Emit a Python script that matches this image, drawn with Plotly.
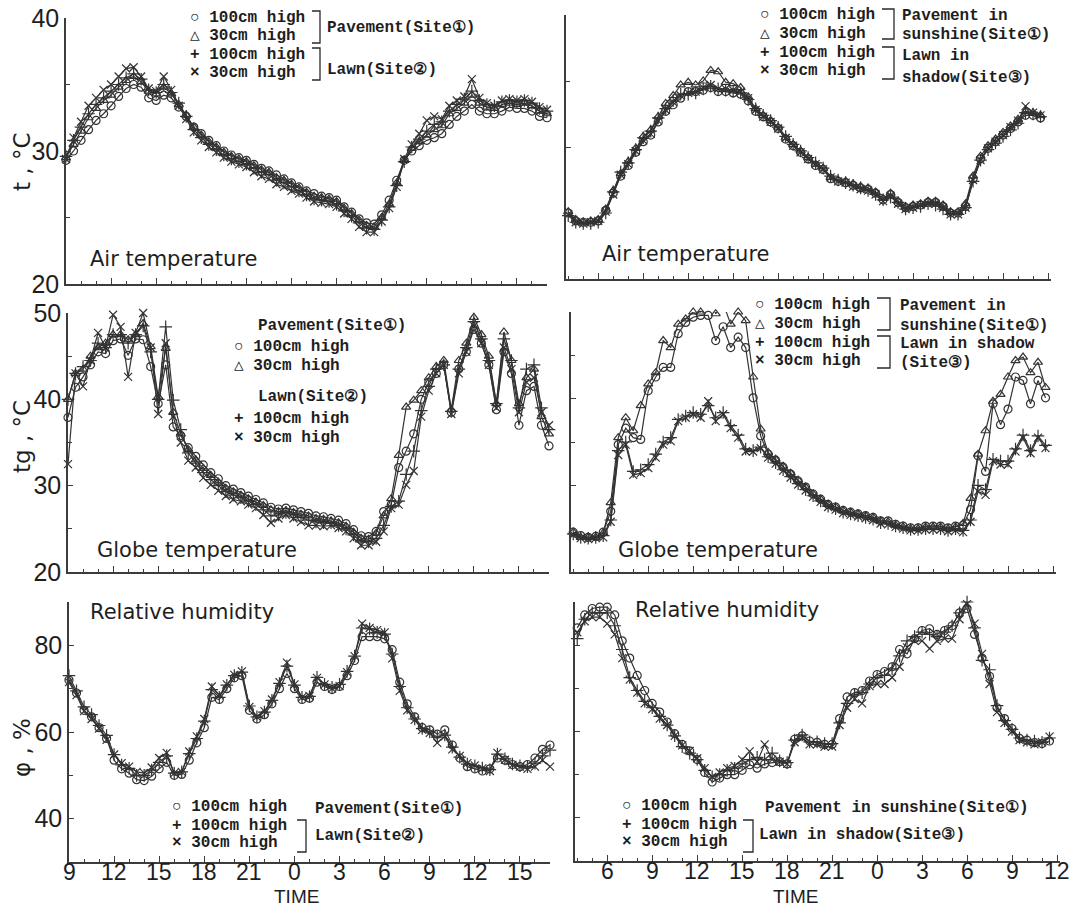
import plotly.graph_objects as go

W, H = 1073, 907


def px(x):
    return x / W


def py(y):
    return 1 - y / H


# time grid (hours, continuous; 24 = midnight of the 2nd day)
T_LEFT = [9 + 0.5 * i for i in range(65)]     # 9:00 .. 17:00 next day
T_RIGHT = [4 + 0.5 * i for i in range(64)]    # 4:00 .. 11:30 next day

LEFT_TICKVALS = [9, 12, 15, 18, 21, 24, 27, 30, 33, 36, 39]
LEFT_TICKTEXT = ["9", "12", "15", "18", "21", "0", "3", "6", "9", "12", "15"]
RIGHT_TICKVALS = [6, 9, 12, 15, 18, 21, 24, 27, 30, 33, 36]
RIGHT_TICKTEXT = ["6", "9", "12", "15", "18", "21", "0", "3", "6", "9", "12"]

# ---------------- Air temperature, Pavement (Site 1) / Lawn (Site 2)
TL_P100 = [29.3, 30.0, 30.8, 31.6, 32.3, 32.8, 33.4, 34.1, 34.7, 35.0,
           34.8, 34.0, 33.8, 34.2, 34.0, 33.3, 32.6, 31.8, 31.3, 30.8,
           30.4, 30.0, 29.7, 29.5, 29.3, 29.0, 28.7, 28.5, 28.2, 27.9,
           27.6, 27.3, 27.0, 26.8, 26.6, 26.5, 26.3, 25.8, 25.4, 24.9,
           24.6, 24.5, 25.2, 26.3, 27.8, 29.3, 30.0, 30.4, 30.8, 31.0,
           31.3, 32.0, 32.6, 33.0, 33.5, 33.0, 32.8, 32.8, 33.0, 33.3,
           33.2, 33.2, 33.0, 32.6, 32.5]
TL_P30 = [29.5, 30.5, 31.5, 32.5, 33.2, 33.8, 34.2, 34.8, 35.3, 35.6,
          35.2, 34.5, 34.3, 34.8, 34.3, 33.5, 32.7, 31.8, 31.2, 30.7,
          30.3, 29.9, 29.6, 29.4, 29.2, 28.9, 28.6, 28.4, 28.0, 27.8,
          27.5, 27.2, 26.9, 26.6, 26.5, 26.4, 26.2, 25.7, 25.3, 24.8,
          24.4, 24.3, 25.0, 26.0, 27.6, 29.3, 30.2, 30.7, 31.2, 31.6,
          31.9, 32.8, 33.2, 33.6, 34.2, 33.6, 33.3, 33.2, 33.5, 33.6,
          33.5, 33.6, 33.4, 33.0, 32.8]
TL_L100 = [29.6, 30.8, 31.8, 32.8, 33.5, 34.0, 34.5, 35.0, 35.5, 35.8,
           35.4, 34.6, 34.4, 35.0, 34.4, 33.6, 32.6, 31.6, 31.0, 30.5,
           30.1, 29.7, 29.4, 29.2, 29.0, 28.7, 28.4, 28.2, 27.8, 27.6,
           27.3, 27.0, 26.7, 26.4, 26.3, 26.2, 26.0, 25.5, 25.1, 24.6,
           24.2, 24.1, 24.8, 25.8, 27.4, 29.2, 30.3, 30.9, 31.5, 32.0,
           32.2, 33.0, 33.5, 33.9, 34.5, 33.8, 33.5, 33.4, 33.7, 33.8,
           33.7, 33.8, 33.6, 33.2, 33.0]
TL_L30 = [29.4, 31.0, 32.2, 33.4, 34.0, 34.6, 35.0, 35.6, 36.2, 36.3,
          35.6, 34.7, 34.5, 35.6, 34.6, 33.4, 32.4, 31.4, 30.8, 30.3,
          29.9, 29.5, 29.2, 29.0, 28.8, 28.4, 28.1, 27.9, 27.5, 27.3,
          27.0, 26.8, 26.5, 26.2, 26.1, 26.0, 25.8, 25.3, 24.9, 24.3,
          23.9, 23.9, 24.7, 25.7, 27.3, 29.4, 30.5, 31.3, 32.3, 32.6,
          32.4, 33.4, 33.8, 34.1, 35.4, 34.0, 33.6, 33.4, 33.8, 33.9,
          33.8, 33.9, 33.7, 33.3, 33.1]

# ---------------- Air temperature, Pavement in sunshine (Site 1) / Lawn in shadow (Site 3)
TR_P100 = [25.0, 24.4, 24.3, 24.3, 24.4, 25.2, 26.5, 27.8, 28.6, 29.6,
           30.4, 30.9, 31.9, 32.7, 33.2, 33.7, 34.2, 34.2, 34.3, 34.5,
           34.2, 34.2, 34.1, 34.0, 33.5, 32.7, 32.3, 31.9, 31.4, 30.6,
           30.1, 29.6, 29.1, 28.6, 28.3, 27.6, 27.4, 27.3, 27.1, 26.9,
           26.8, 26.5, 26.0, 26.4, 25.8, 25.4, 25.5, 25.6, 25.8, 25.8,
           25.5, 25.0, 25.0, 25.5, 27.6, 29.1, 29.9, 30.4, 30.9, 31.4,
           31.9, 32.4, 32.4, 32.2]
TR_P30 = [25.1, 24.5, 24.3, 24.4, 24.5, 25.3, 26.7, 28.0, 28.9, 29.9,
          30.8, 31.3, 32.3, 33.3, 33.9, 34.7, 34.9, 34.7, 35.0, 35.8,
          35.7, 34.9, 34.8, 34.5, 33.8, 32.9, 32.4, 32.0, 31.5, 30.7,
          30.2, 29.7, 29.2, 28.7, 28.4, 27.7, 27.5, 27.4, 27.2, 27.0,
          26.9, 26.6, 26.1, 26.5, 25.9, 25.5, 25.6, 25.7, 25.9, 25.9,
          25.6, 25.1, 25.1, 25.7, 27.8, 29.3, 30.1, 30.6, 31.1, 31.6,
          32.1, 32.7, 32.6, 32.4]
TR_L100 = [24.8, 24.3, 24.2, 24.2, 24.3, 25.0, 26.6, 28.1, 28.8, 29.8,
           30.7, 31.2, 32.2, 32.9, 33.5, 34.0, 34.0, 34.1, 34.4, 34.6,
           34.4, 34.3, 34.2, 34.1, 33.6, 32.9, 32.4, 32.0, 31.5, 30.8,
           30.2, 29.7, 29.2, 28.8, 28.4, 27.8, 27.5, 27.3, 27.1, 26.9,
           26.7, 26.4, 26.0, 26.2, 25.8, 25.3, 25.4, 25.5, 25.7, 25.6,
           25.3, 24.9, 24.9, 25.4, 27.4, 29.0, 29.8, 30.3, 30.8, 31.3,
           31.8, 32.6, 32.5, 32.3]
TR_L30 = [24.9, 24.3, 24.2, 24.3, 24.4, 25.1, 26.4, 27.9, 28.7, 29.7,
          30.5, 31.0, 32.0, 32.8, 33.4, 33.9, 34.1, 34.2, 34.5, 34.7,
          34.4, 34.4, 34.3, 34.2, 33.7, 32.8, 32.3, 31.9, 31.4, 30.7,
          30.1, 29.6, 29.1, 28.7, 28.3, 27.7, 27.4, 27.3, 27.0, 26.8,
          26.7, 26.4, 25.9, 26.3, 25.7, 25.3, 25.4, 25.6, 25.7, 25.7,
          25.4, 24.9, 24.9, 25.4, 27.5, 29.0, 29.9, 30.4, 30.9, 31.5,
          32.0, 33.1, 32.6, 32.4]

# ---------------- Globe temperature, left
ML_P100 = [37.9, 41.4, 42.6, 44.0, 45.5, 45.3, 46.8, 47.0, 45.1, 47.0,
           46.9, 43.8, 39.5, 44.0, 36.8, 35.8, 34.4, 33.4, 32.4, 31.5,
           30.8, 30.0, 29.6, 29.2, 28.8, 28.4, 28.0, 27.5, 27.3, 27.4,
           27.2, 27.0, 26.8, 26.5, 26.4, 26.2, 26.0, 25.6, 24.9, 24.2,
           24.1, 24.7, 27.0, 27.8, 32.1, 34.0, 36.0, 40.0, 42.0, 43.0,
           44.0, 38.5, 43.5, 45.5, 48.1, 46.5, 44.0, 38.8, 45.5, 43.0,
           37.0, 41.0, 41.5, 37.0, 34.6]
ML_P30 = [40.0, 43.0, 43.5, 45.0, 46.0, 46.5, 47.5, 47.5, 46.9, 47.5,
          48.8, 46.1, 40.3, 45.9, 38.5, 36.0, 34.2, 33.0, 32.0, 31.2,
          30.4, 29.7, 29.3, 28.9, 28.5, 28.1, 27.7, 27.2, 27.0, 27.1,
          26.9, 26.7, 26.5, 26.2, 26.1, 25.9, 25.7, 25.3, 24.6, 23.9,
          23.8, 24.5, 26.5, 28.5, 33.5, 39.1, 39.9, 41.0, 42.5, 43.8,
          44.5, 38.8, 44.5, 46.5, 49.5, 47.5, 45.0, 39.5, 47.8, 44.5,
          39.5, 42.5, 43.5, 38.0, 36.0]
ML_L100 = [40.0, 43.0, 43.8, 44.5, 46.5, 46.0, 47.5, 47.5, 46.5, 47.5,
           48.5, 45.5, 40.0, 48.4, 39.9, 36.5, 33.8, 32.6, 31.5, 30.7,
           30.0, 29.3, 28.9, 28.6, 28.2, 27.8, 27.2, 26.5, 26.6, 26.9,
           26.6, 26.3, 26.0, 25.8, 25.7, 25.7, 25.4, 25.0, 24.3, 23.5,
           23.5, 23.9, 25.4, 27.6, 28.2, 31.3, 34.0, 38.7, 41.5, 43.5,
           44.0, 38.6, 43.5, 46.0, 49.0, 47.0, 44.5, 39.5, 47.0, 44.5,
           39.0, 43.5, 44.0, 39.0, 36.5]
ML_L30 = [32.5, 43.0, 41.5, 44.5, 47.7, 46.0, 49.8, 48.4, 42.6, 47.7,
          50.0, 46.0, 38.3, 46.5, 38.0, 35.0, 32.9, 32.1, 30.9, 30.1,
          29.4, 28.8, 28.4, 28.2, 27.8, 27.4, 26.6, 25.7, 26.2, 26.6,
          26.2, 25.8, 25.4, 25.4, 25.3, 25.4, 25.1, 24.7, 23.9, 23.1,
          23.1, 23.5, 24.7, 27.4, 27.8, 30.1, 31.7, 38.0, 41.0, 43.0,
          44.0, 38.3, 43.0, 45.5, 48.5, 46.5, 44.0, 39.0, 46.0, 43.5,
          38.5, 42.0, 42.5, 38.5, 37.0]

# ---------------- Globe temperature, right
MR_P100 = [24.6, 24.2, 24.0, 24.1, 24.6, 27.0, 34.7, 36.6, 35.5, 35.3,
           40.9, 42.5, 43.6, 43.6, 47.5, 48.8, 49.4, 49.6, 49.6, 46.7,
           48.3, 45.9, 47.1, 45.9, 40.1, 35.7, 33.6, 32.9, 32.1, 31.3,
           30.5, 29.8, 29.0, 28.4, 27.8, 27.5, 27.1, 26.9, 26.7, 26.5,
           26.3, 25.9, 25.9, 25.5, 25.3, 25.1, 25.1, 25.3, 25.3, 25.3,
           25.1, 25.3, 25.4, 27.2, 33.4, 31.6, 39.4, 37.0, 38.8, 42.5,
           42.1, 39.4, 42.1, 40.1]
MR_P30 = [24.6, 24.0, 24.0, 24.0, 24.5, 28.0, 35.5, 37.8, 36.3, 39.2,
          41.7, 43.0, 46.7, 45.9, 48.6, 49.2, 50.0, 50.0, 52.3, 49.8,
          51.0, 48.6, 50.0, 49.0, 42.5, 36.5, 33.8, 33.0, 32.2, 31.4,
          30.6, 29.8, 29.0, 28.4, 27.8, 27.5, 27.1, 26.9, 26.7, 26.5,
          26.3, 25.9, 25.8, 25.4, 25.2, 25.0, 25.0, 25.2, 25.2, 25.2,
          25.0, 25.2, 25.6, 28.5, 33.6, 36.3, 39.7, 40.5, 42.5, 44.4,
          44.8, 43.0, 44.2, 41.3]
MR_L100 = [24.4, 24.0, 23.9, 24.0, 24.2, 26.0, 34.0, 35.0, 31.6, 31.8,
           32.4, 33.6, 35.0, 35.5, 37.6, 38.0, 38.4, 38.2, 39.2, 37.8,
           38.4, 36.9, 35.8, 34.2, 34.0, 34.4, 33.3, 32.6, 31.8, 31.0,
           30.2, 29.5, 28.8, 28.2, 27.6, 27.3, 26.9, 26.7, 26.5, 26.3,
           26.1, 25.7, 25.6, 25.3, 25.1, 24.9, 24.9, 25.0, 25.0, 25.0,
           24.8, 25.0, 24.8, 26.0, 30.0, 29.5, 33.0, 32.8, 32.8, 34.2,
           35.8, 34.0, 35.7, 34.6]
MR_L30 = [24.3, 23.9, 23.8, 23.9, 24.0, 25.8, 33.5, 34.7, 31.2, 31.4,
          32.0, 33.2, 34.7, 35.1, 37.4, 37.8, 38.2, 37.8, 39.7, 37.4,
          38.2, 36.6, 35.5, 33.9, 33.9, 34.3, 33.2, 32.5, 31.7, 30.9,
          30.1, 29.4, 28.7, 28.1, 27.5, 27.2, 26.8, 26.6, 26.4, 26.2,
          26.0, 25.6, 25.5, 25.2, 25.0, 24.8, 24.8, 24.9, 24.9, 24.9,
          24.7, 24.8, 24.6, 25.8, 29.3, 28.9, 32.8, 32.4, 32.4, 33.9,
          35.5, 33.7, 35.5, 34.3]

# ---------------- Relative humidity, left
BL_P100 = [72.0, 69.0, 65.0, 63.5, 61.0, 58.5, 53.5, 51.5, 50.5, 49.0,
           48.8, 49.8, 51.5, 53.0, 50.0, 50.2, 53.5, 57.5, 61.0, 68.0,
           67.5, 70.0, 72.5, 73.0, 65.0, 63.0, 64.0, 66.5, 70.0, 73.5,
           70.0, 67.5, 67.8, 71.5, 70.5, 69.8, 70.5, 73.0, 76.5, 82.0,
           82.0, 82.0, 81.5, 79.0, 71.5, 66.5, 63.5, 61.0, 60.5, 59.5,
           60.5, 57.0, 54.0, 52.0, 51.5, 51.0, 51.5, 54.0, 53.5, 52.5,
           52.0, 52.5, 54.0, 56.0, 57.0]
BL_L100 = [73.0, 69.5, 65.8, 64.0, 61.5, 59.2, 54.8, 52.4, 51.6, 50.0,
           50.0, 51.2, 53.0, 54.5, 50.5, 50.8, 55.0, 58.5, 62.5, 69.8,
           68.0, 70.8, 73.0, 73.8, 66.0, 63.5, 64.6, 67.3, 71.2, 75.2,
           70.8, 68.0, 68.2, 72.6, 71.0, 70.3, 71.0, 74.0, 77.5, 84.0,
           83.8, 83.0, 82.6, 78.0, 70.5, 65.6, 63.0, 60.8, 60.0, 58.8,
           59.3, 56.5, 54.2, 52.6, 52.2, 51.7, 51.3, 54.9, 53.8, 52.6,
           52.2, 52.0, 52.8, 54.5, 55.8]
BL_L30 = [71.5, 68.5, 64.8, 63.0, 60.8, 58.2, 54.8, 52.8, 52.0, 50.8,
          50.5, 51.8, 54.0, 55.2, 50.5, 50.8, 55.5, 59.0, 63.0, 70.5,
          68.5, 71.0, 73.2, 74.0, 65.8, 63.5, 64.8, 67.5, 71.5, 76.0,
          71.0, 68.0, 68.3, 72.5, 71.0, 70.0, 70.6, 73.8, 77.5, 85.0,
          84.0, 83.5, 83.0, 77.0, 69.5, 65.0, 62.8, 60.5, 59.8, 57.5,
          59.0, 56.0, 54.5, 52.8, 52.3, 51.6, 51.0, 55.2, 53.6, 52.4,
          52.0, 51.5, 52.0, 53.5, 52.0]

# ---------------- Relative humidity, right
BR_P100 = [84.0, 87.0, 88.5, 88.8, 88.8, 87.0, 81.0, 77.0, 73.0, 69.5,
           66.5, 64.5, 62.2, 59.5, 57.0, 55.5, 53.5, 50.5, 48.3, 49.2,
           50.0, 50.0, 51.0, 52.3, 51.5, 52.5, 52.8, 53.0, 52.5, 58.2,
           59.0, 57.8, 57.5, 57.0, 57.0, 63.0, 68.0, 69.0, 69.5, 71.7,
           73.2, 73.9, 75.0, 79.0, 78.0, 81.5, 83.4, 83.8, 82.5, 83.4,
           84.5, 87.5, 88.5, 82.5, 77.0, 72.8, 65.5, 63.0, 60.7, 58.4,
           58.0, 57.4, 57.2, 57.8]
BR_L100 = [81.5, 86.0, 87.5, 87.5, 87.5, 84.5, 79.0, 72.5, 69.5, 67.0,
           65.5, 63.5, 61.5, 59.0, 56.5, 55.0, 53.5, 51.0, 49.5, 50.0,
           51.0, 51.5, 52.5, 53.5, 54.0, 53.5, 55.0, 53.2, 52.8, 58.0,
           59.2, 57.6, 57.6, 57.2, 57.2, 62.0, 66.5, 68.5, 69.0, 71.0,
           72.5, 73.0, 74.5, 77.5, 81.0, 82.0, 83.0, 82.5, 82.0, 83.0,
           84.5, 87.5, 90.0, 84.0, 76.5, 74.3, 66.0, 62.5, 60.5, 58.5,
           58.0, 57.8, 57.5, 58.5]
BR_L30 = [83.0, 85.5, 86.5, 86.5, 85.0, 82.5, 77.0, 72.0, 69.0, 66.5,
          65.2, 63.0, 61.5, 59.0, 56.8, 55.5, 53.8, 51.5, 49.5, 50.5,
          51.5, 52.0, 53.5, 55.4, 53.0, 57.0, 53.5, 53.0, 52.5, 57.5,
          58.5, 57.0, 57.0, 56.5, 56.5, 61.5, 65.5, 67.5, 66.5, 70.5,
          71.0, 71.0, 72.5, 75.0, 79.5, 81.0, 81.0, 79.2, 81.0, 81.5,
          81.5, 86.0, 89.5, 85.0, 78.0, 71.0, 64.5, 62.0, 60.0, 58.0,
          57.5, 57.0, 57.5, 58.8]

# ---------------- styling
INK = "#333333"
AX = "#3c3c3c"
NUM_FONT = "Liberation Sans Narrow, Liberation Sans, Arial, sans-serif"
TITLE_FONT = "DejaVu Sans, Verdana, sans-serif"
MONO_FONT = "Liberation Mono, DejaVu Sans Mono, monospace"

SYMBOL = {"p100": "circle-open", "p30": "triangle-up-open",
          "l100": "cross-thin-open", "l30": "x-thin-open"}
MSIZE = {"p100": 8, "p30": 8, "l100": 9, "l30": 8}

fig = go.Figure()


def add(panel, t, vals, key):
    sfx = "" if panel == 1 else str(panel)
    fig.add_trace(go.Scatter(
        x=t, y=vals, mode="lines+markers",
        xaxis="x" + sfx, yaxis="y" + sfx, cliponaxis=False,
        line=dict(color=INK, width=1.2),
        marker=dict(symbol=SYMBOL[key], size=MSIZE[key], color=INK,
                    line=dict(color=INK, width=1.2)),
        showlegend=False, hoverinfo="skip"))


add(1, T_LEFT, TL_P100, "p100")
add(1, T_LEFT, TL_P30, "p30")
add(1, T_LEFT, TL_L100, "l100")
add(1, T_LEFT, TL_L30, "l30")
add(2, T_RIGHT, TR_P100, "p100")
add(2, T_RIGHT, TR_P30, "p30")
add(2, T_RIGHT, TR_L100, "l100")
add(2, T_RIGHT, TR_L30, "l30")
add(3, T_LEFT, ML_P100, "p100")
add(3, T_LEFT, ML_P30, "p30")
add(3, T_LEFT, ML_L100, "l100")
add(3, T_LEFT, ML_L30, "l30")
add(4, T_RIGHT, MR_P100, "p100")
add(4, T_RIGHT, MR_P30, "p30")
add(4, T_RIGHT, MR_L100, "l100")
add(4, T_RIGHT, MR_L30, "l30")
add(5, T_LEFT, BL_P100, "p100")
add(5, T_LEFT, BL_L100, "l100")
add(5, T_LEFT, BL_L30, "l30")
add(6, T_RIGHT, BR_P100, "p100")
add(6, T_RIGHT, BR_L100, "l100")
add(6, T_RIGHT, BR_L30, "l30")

# panel geometry in pixels
PANELS = {
    1: dict(xd=(66, 547), yd=(18, 284), xr=[9, 41.0], yr=[20, 40], left=True, bottom=False,
            ymaj=[20, 30, 40], ymin=[25, 35]),
    2: dict(xd=(566, 1051), yd=(15, 279), xr=[3.85, 36.2], yr=[20, 40], left=False, bottom=False,
            ymaj=[20, 30, 40], ymin=[25, 35]),
    3: dict(xd=(68, 549), yd=(313, 572), xr=[9, 41.0], yr=[20, 50], left=True, bottom=False,
            ymaj=[20, 30, 40, 50], ymin=[25, 35, 45]),
    4: dict(xd=(571, 1056), yd=(312, 572), xr=[3.85, 36.2], yr=[20, 50], left=False, bottom=False,
            ymaj=[20, 30, 40, 50], ymin=[25, 35, 45]),
    5: dict(xd=(69, 550), yd=(602, 862), xr=[9, 41.0], yr=[30, 90], left=True, bottom=True,
            ymaj=[40, 60, 80], ymin=[50, 70, 90]),
    6: dict(xd=(575, 1060), yd=(602, 861), xr=[3.85, 36.2], yr=[30, 90], left=False, bottom=True,
            ymaj=[40, 60, 80], ymin=[50, 70, 90]),
}

layout = dict(width=W, height=H, autosize=False, margin=dict(l=0, r=0, t=0, b=0, pad=0),
              paper_bgcolor="white", plot_bgcolor="white", showlegend=False)

annotations = []
shapes = []

for i, p in PANELS.items():
    sfx = "" if i == 1 else str(i)
    tv = LEFT_TICKVALS if p["left"] else RIGHT_TICKVALS
    tt = LEFT_TICKTEXT if p["left"] else RIGHT_TICKTEXT
    layout["xaxis" + sfx] = dict(
        domain=[px(p["xd"][0]), px(p["xd"][1])], range=p["xr"], anchor="y" + sfx,
        automargin=False,
        showline=True, linecolor=AX, linewidth=1.6, showgrid=False, zeroline=False,
        ticks="inside", ticklen=6, tickwidth=1.4, tickcolor=AX,
        tickmode="array", tickvals=tv, ticktext=tt, showticklabels=False,
        minor=dict(dtick=1, tick0=0, ticks="inside", ticklen=3, tickwidth=1.1, tickcolor=AX),
    )
    layout["yaxis" + sfx] = dict(
        domain=[py(p["yd"][1]), py(p["yd"][0])], range=p["yr"], anchor="x" + sfx,
        automargin=False,
        showline=True, linecolor=AX, linewidth=1.6, showgrid=False, zeroline=False,
        ticks="inside", ticklen=5, tickwidth=1.3, tickcolor=AX,
        tickmode="array", tickvals=p["ymaj"], showticklabels=p["left"],
        tickfont=dict(family=NUM_FONT, size=25, color="#1e1e1e"),
        minor=dict(tickmode="array", tickvals=p["ymin"], ticks="inside", ticklen=4,
                   tickwidth=1.1, tickcolor=AX),
    )
    if p["bottom"]:
        # time tick labels placed on the x axis scale, just below the axis line
        for v, s in zip(tv, tt):
            annotations.append(dict(
                x=v, y=py(p["yd"][1] + 10), xref="x" + sfx, yref="paper", text=s,
                showarrow=False, xanchor="center", yanchor="middle",
                font=dict(family=NUM_FONT, size=23, color="#1e1e1e")))


def note(x, y, text, size, family, xanchor="left", angle=0, weight="normal"):
    annotations.append(dict(
        x=px(x), y=py(y), xref="paper", yref="paper", text=text, showarrow=False,
        xanchor=xanchor, yanchor="middle", textangle=angle,
        font=dict(family=family, size=size, color="#1e1e1e", weight=weight)))


def bracket(x0, x1, y0, y1):
    shapes.append(dict(
        type="path", xref="paper", yref="paper",
        path=f"M {px(x0)} {py(y0)} L {px(x1)} {py(y0)} L {px(x1)} {py(y1)} L {px(x0)} {py(y1)}",
        line=dict(color="#2a2a2a", width=1.3)))


def mono(x, y, text):
    note(x, y, text, 16, MONO_FONT, weight="bold")


# panel titles
note(88, 259, "Air temperature", 21, TITLE_FONT)
note(600, 254, "Air temperature", 21, TITLE_FONT)
note(95, 550, "Globe temperature", 21, TITLE_FONT)
note(616, 550, "Globe temperature", 21, TITLE_FONT)
note(88, 612, "Relative humidity", 21, TITLE_FONT)
note(633, 610, "Relative humidity", 21, TITLE_FONT)

# axis titles
note(22, 162, "t , °C", 23, TITLE_FONT, xanchor="center", angle=-90)
note(22, 437, "tg , °C", 23, TITLE_FONT, xanchor="center", angle=-90)
note(22, 748, "φ , %", 23, TITLE_FONT, xanchor="center", angle=-90)
note(296, 896, "TIME", 19, "Liberation Sans, Arial, sans-serif", xanchor="center")
note(795, 896, "TIME", 19, "Liberation Sans, Arial, sans-serif", xanchor="center")

# legend: top-left
mono(188, 18, "○ 100cm high")
mono(188, 36, "△ 30cm high")
mono(188, 55, "+ 100cm high")
mono(188, 73, "× 30cm high")
bracket(312, 320, 11, 43)
bracket(312, 320, 48, 80)
mono(325, 28, "Pavement(Site①)")
mono(325, 70, "Lawn(Site②)")

# legend: top-right
mono(758, 15, "○ 100cm high")
mono(758, 34, "△ 30cm high")
mono(758, 53, "+ 100cm high")
mono(758, 71, "× 30cm high")
bracket(882, 894, 9, 39)
bracket(882, 894, 47, 79)
mono(900, 16, "Pavement in")
mono(900, 35, "sunshine(Site①)")
mono(900, 56, "Lawn in")
mono(900, 78, "shadow(Site③)")

# legend: middle-left
mono(256, 326, "Pavement(Site①)")
mono(232, 347, "○ 100cm high")
mono(232, 366, "△ 30cm high")
mono(256, 397, "Lawn(Site②)")
mono(232, 419, "+ 100cm high")
mono(232, 438, "× 30cm high")

# legend: middle-right
mono(753, 305, "○ 100cm high")
mono(753, 324, "△ 30cm high")
mono(753, 343, "+ 100cm high")
mono(753, 361, "× 30cm high")
bracket(877, 890, 298, 330)
bracket(877, 890, 336, 368)
mono(898, 306, "Pavement in")
mono(898, 326, "sunshine(Site①)")
mono(898, 344, "Lawn in shadow")
mono(898, 363, "(Site③)")

# legend: bottom-left
mono(170, 807, "○ 100cm high")
mono(170, 826, "+ 100cm high")
mono(170, 843, "× 30cm high")
mono(313, 809, "Pavement(Site①)")
bracket(297, 306, 820, 852)
mono(313, 836, "Lawn(Site②)")

# legend: bottom-right
mono(620, 806, "○ 100cm high")
mono(620, 825, "+ 100cm high")
mono(620, 842, "× 30cm high")
mono(763, 808, "Pavement in sunshine(Site①)")
bracket(743, 753, 820, 852)
mono(757, 835, "Lawn in shadow(Site③)")

layout["annotations"] = annotations
layout["shapes"] = shapes
fig.update_layout(**layout)
fig.write_html(
    "out.html",
    post_script="document.body.style.margin='0px';document.body.style.overflow='hidden';",
)
